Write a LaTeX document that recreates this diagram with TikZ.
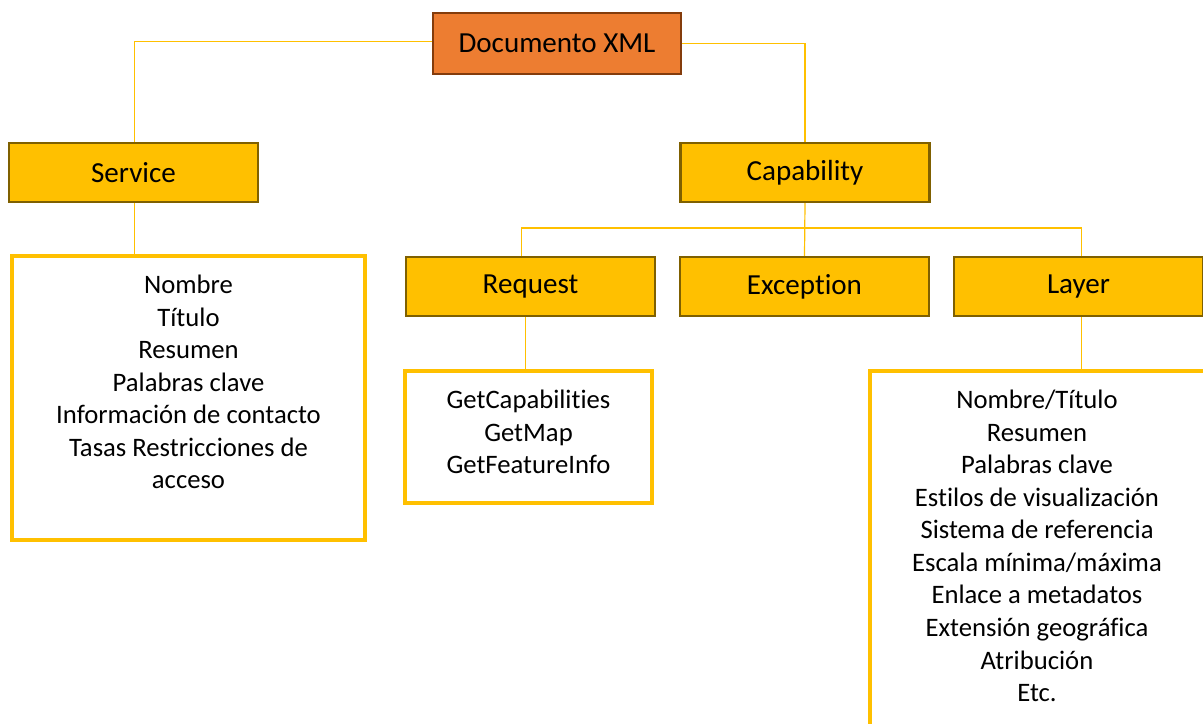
\documentclass[tikz,border=0pt]{standalone}
\usepackage{fontspec}
\setmainfont{Carlito}[Ligatures=NoCommon]
\definecolor{orng}{HTML}{ED7D31}
\definecolor{orngdark}{HTML}{843C0C}
\definecolor{gold}{HTML}{FFC000}
\definecolor{golddark}{HTML}{7F6000}
\tikzset{
  titlebox/.style={draw=golddark, line width=1.6pt, fill=gold, minimum width=249*0.75pt, minimum height=59*0.75pt, inner sep=0pt, font=\fontsize{21.8}{26}\selectfont},
  rootbox/.style={draw=orngdark, line width=1.6pt, fill=orng, minimum width=248*0.75pt, minimum height=61*0.75pt, inner sep=0pt, font=\fontsize{21.8}{26}\selectfont},
  listbox/.style={draw=gold, line width=2.5pt, fill=white, inner sep=0pt},
  listtext/.style={align=center, anchor=north, inner sep=0pt, font=\fontsize{20}{24.4}\selectfont},
  conn/.style={draw=gold, line width=0.9pt},
}
\begin{document}
\begin{tikzpicture}[x=0.75pt,y=-0.75pt]
\useasboundingbox (0,0) rectangle (1203,724);
\clip (0,0) rectangle (1203,724);
\fill[white] (0,0) rectangle (1203,724);
% root and title boxes
\node[rootbox] (doc) at (557,43.5) {Documento XML};
\node[titlebox] (service) at (133.5,172.5) {Service};
\node[titlebox] (cap) at (805,172.5) {Capability};
\node[titlebox] (req) at (530.5,286.5) {Request};
\node[titlebox] (exc) at (804.5,286.5) {Exception};
\node[titlebox] (layer) at (1078.5,286.5) {Layer};
% list boxes
\node[listbox, minimum width=353*0.75pt, minimum height=284*0.75pt] (servbox) at (188.5,398) {};
\node[listbox, minimum width=247*0.75pt, minimum height=132*0.75pt] (reqbox) at (528.5,437) {};
\node[listbox, minimum width=400*0.75pt, minimum height=420*0.75pt] (laybox) at (1070,581) {};
% connectors
\coordinate (bus) at (805,228);
\draw[conn] ([yshift=1.5pt]doc.west) -| ([xshift=1pt]service.north);
\draw[conn] (doc.east) -| (cap.north);
\draw[conn] (cap.south) -- (exc.north);
\draw[conn] ([xshift=-7pt]req.north) |- (bus) -| ([xshift=2.5pt]layer.north);
\draw[conn] ([xshift=1pt]service.south) -- ([xshift=1pt]service.south |- servbox.north);
\draw[conn] ([xshift=-4pt]req.south) -- ([xshift=-4pt]req.south |- reqbox.north);
\draw[conn] ([xshift=2.5pt]layer.south) -- ([xshift=2.5pt]layer.south |- laybox.north);
% texts
\node[listtext] (servtext) at (188.5,275) {Nombre\\Título\\Resumen\\Palabras clave\\Información de contacto\\Tasas Restricciones de\\acceso};
\node[listtext] (reqtext) at (528.5,390) {GetCapabilities\\GetMap\\GetFeatureInfo};
\node[listtext] (laytext) at (1037,390) {Nombre/Título\\Resumen\\Palabras clave\\Estilos de visualización\\Sistema de referencia\\Escala mínima/máxima\\Enlace a metadatos\\Extensión geográfica\\Atribución\\Etc.};
\end{tikzpicture}
\end{document}
